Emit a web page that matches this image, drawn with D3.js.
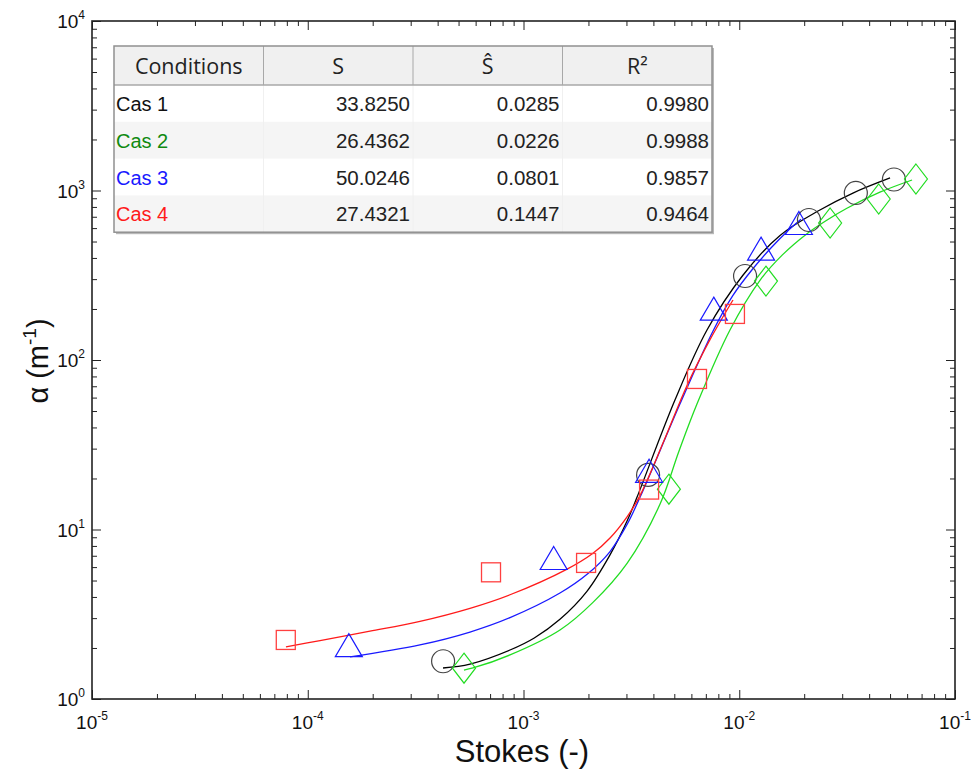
<!DOCTYPE html>
<html>
<head>
<meta charset="utf-8">
<script src="https://cdn.jsdelivr.net/npm/d3@7"></script>
<style>
  html, body { margin: 0; padding: 0; background: #fff; }
  svg { display: block; }
</style>
</head>
<body>
<svg id="chart" width="971" height="772"></svg>
<script>
// ---------------- DATA ----------------
const xDomain = [1e-5, 1e-1];
const yDomain = [1, 1e4];
const xMajorExp = [-5, -4, -3, -2, -1];
const yMajorExp = [0, 1, 2, 3, 4];

// Measured points
const cas1X = [4.24e-4, 3.78e-3, 0.01064, 0.02104, 0.0347, 0.0521];
const cas1Y = [1.67, 21.0, 313, 670, 967, 1161];
const cas2X = [5.30e-4, 4.72e-3, 0.0133, 0.02637, 0.0443, 0.0659];
const cas2Y = [1.52, 17.3, 292, 643, 891, 1169];
const cas3X = [1.55e-4, 1.38e-3, 3.82e-3, 7.62e-3, 0.01262, 0.0189];
const cas3Y = [2.08, 6.79, 22.2, 201, 454, 643];
const cas4X = [7.91e-5, 7.07e-4, 1.95e-3, 3.82e-3, 6.37e-3, 9.55e-3];
const cas4Y = [2.23, 5.59, 6.35, 17.2, 77.3, 187];

// Fitted curves (log10 of x, log10 of y)
const fit1LX = [-3.373, -3.248, -3.0625, -2.95, -2.831, -2.706, -2.599, -2.520, -2.474, -2.298, -2.1495, -1.983, -1.811, -1.626, -1.473, -1.301];
const fit1LY = [0.183, 0.206, 0.289, 0.360, 0.470, 0.635, 0.850, 1.050, 1.190, 1.764, 2.177, 2.500, 2.735, 2.885, 2.985, 3.074];
const fit2LX = [-3.276, -3.234, -3.0625, -2.831, -2.678, -2.520, -2.367, -2.280, -2.196, -2.043, -1.904, -1.800, -1.686, -1.600, -1.501, -1.348, -1.199];
const fit2LY = [0.171, 0.183, 0.260, 0.407, 0.570, 0.800, 1.150, 1.460, 1.740, 2.177, 2.470, 2.620, 2.745, 2.820, 2.895, 2.990, 3.062];
const fit3LX = [-3.804, -3.480, -3.248, -3.0625, -2.831, -2.701, -2.599, -2.520, -2.460, -2.275, -2.122, -2.030, -1.936, -1.850, -1.779, -1.714];
const fit3LY = [0.248, 0.319, 0.395, 0.480, 0.625, 0.740, 0.870, 1.030, 1.190, 1.740, 2.170, 2.380, 2.540, 2.665, 2.757, 2.830];
const fit4LX = [-4.101, -3.943, -3.7115, -3.480, -3.248, -3.0625, -2.800, -2.678, -2.599, -2.520, -2.460, -2.350, -2.242, -2.1356, -2.029];
const fit4LY = [0.307, 0.345, 0.400, 0.458, 0.535, 0.615, 0.765, 0.860, 0.950, 1.075, 1.200, 1.520, 1.850, 2.120, 2.354];

// Table
const tableHeader = ["Conditions", "S", "Ŝ", "R²"];
const tableCond = ["Cas 1", "Cas 2", "Cas 3", "Cas 4"];
const tableS = ["33.8250", "26.4362", "50.0246", "27.4321"];
const tableShat = ["0.0285", "0.0226", "0.0801", "0.1447"];
const tableR2 = ["0.9980", "0.9988", "0.9857", "0.9464"];

// ---------------- DRAW ----------------
const svg = d3.select("#chart");
const L = 92, R = 955, T = 21, B = 699;
const x = d3.scaleLog().domain(xDomain).range([L, R]);
const y = d3.scaleLog().domain(yDomain).range([B, T]);

const font = "'Liberation Sans', Arial, sans-serif";

const xMinor = [], yMinor = [];
for (let e = -5; e < -1; e++) for (let m = 2; m <= 9; m++) xMinor.push(m * Math.pow(10, e));
for (let e = 0; e < 4; e++) for (let m = 2; m <= 9; m++) yMinor.push(m * Math.pow(10, e));
const xMajor = xMajorExp.map(e => Math.pow(10, e));
const yMajor = yMajorExp.map(e => Math.pow(10, e));

function styleAxis(g) {
  g.select(".domain").remove();
  g.selectAll("line").attr("stroke", "#222").attr("stroke-width", 1);
}
svg.append("g").attr("transform", `translate(0,${B})`).call(d3.axisBottom(x).tickValues(xMinor).tickSize(-5).tickFormat("")).call(styleAxis);
svg.append("g").attr("transform", `translate(0,${B})`).call(d3.axisBottom(x).tickValues(xMajor).tickSize(-9).tickFormat("")).call(styleAxis);
svg.append("g").attr("transform", `translate(0,${T})`).call(d3.axisTop(x).tickValues(xMinor).tickSize(-5).tickFormat("")).call(styleAxis);
svg.append("g").attr("transform", `translate(0,${T})`).call(d3.axisTop(x).tickValues(xMajor).tickSize(-9).tickFormat("")).call(styleAxis);
svg.append("g").attr("transform", `translate(${L},0)`).call(d3.axisLeft(y).tickValues(yMinor).tickSize(-5).tickFormat("")).call(styleAxis);
svg.append("g").attr("transform", `translate(${L},0)`).call(d3.axisLeft(y).tickValues(yMajor).tickSize(-9).tickFormat("")).call(styleAxis);
svg.append("g").attr("transform", `translate(${R},0)`).call(d3.axisRight(y).tickValues(yMinor).tickSize(-5).tickFormat("")).call(styleAxis);
svg.append("g").attr("transform", `translate(${R},0)`).call(d3.axisRight(y).tickValues(yMajor).tickSize(-9).tickFormat("")).call(styleAxis);

svg.append("rect").attr("x", L).attr("y", T).attr("width", R - L).attr("height", B - T)
  .attr("fill", "none").attr("stroke", "#222").attr("stroke-width", 1.6);

// tick labels
xMajorExp.forEach(e => {
  const t = svg.append("text").attr("x", x(Math.pow(10, e))).attr("y", B + 30)
    .attr("text-anchor", "middle").attr("font-family", font).attr("font-size", 19).attr("fill", "#111");
  t.append("tspan").text("10");
  t.append("tspan").attr("dy", -9).attr("font-size", 12).text(String(e));
});
yMajorExp.forEach(e => {
  const t = svg.append("text").attr("x", 85).attr("y", y(Math.pow(10, e)) + 7)
    .attr("text-anchor", "end").attr("font-family", font).attr("font-size", 19).attr("fill", "#111");
  t.append("tspan").text("10");
  t.append("tspan").attr("dy", -9).attr("font-size", 12).text(String(e));
});

// axis titles
svg.append("text").attr("x", 522).attr("y", 762).attr("text-anchor", "middle")
  .attr("font-family", font).attr("font-size", 31).attr("fill", "#111").text("Stokes (-)");
const yt = svg.append("text").attr("transform", "translate(48,361) rotate(-90)").attr("text-anchor", "middle")
  .attr("font-family", font).attr("font-size", 29).attr("fill", "#111");
yt.append("tspan").text("α (m");
yt.append("tspan").attr("dy", -12).attr("font-size", 19).text("-1");
yt.append("tspan").attr("dy", 12).text(")");

// curves
const line = d3.line().x(d => x(Math.pow(10, d[0]))).y(d => y(Math.pow(10, d[1]))).curve(d3.curveCatmullRom.alpha(0.5));
const fits = [
  { xs: fit1LX, ys: fit1LY, color: "#000000" },
  { xs: fit2LX, ys: fit2LY, color: "#22dd22" },
  { xs: fit3LX, ys: fit3LY, color: "#1a1aff" },
  { xs: fit4LX, ys: fit4LY, color: "#ff1a1a" }
];
fits.forEach(f => {
  svg.append("path").datum(f.xs.map((v, i) => [v, f.ys[i]]))
    .attr("d", line).attr("fill", "none").attr("stroke", f.color).attr("stroke-width", 1.3);
});

// markers
const zip = (a, b) => a.map((v, i) => [v, b[i]]);
svg.append("g").selectAll("circle").data(zip(cas1X, cas1Y)).join("circle")
  .attr("cx", d => x(d[0])).attr("cy", d => y(d[1])).attr("r", 11.5)
  .attr("fill", "none").attr("stroke", "#444").attr("stroke-width", 1.2);
svg.append("g").selectAll("path").data(zip(cas2X, cas2Y)).join("path")
  .attr("transform", d => `translate(${x(d[0])},${y(d[1])})`)
  .attr("d", "M0,-15L11.5,0L0,15L-11.5,0Z")
  .attr("fill", "none").attr("stroke", "#22dd22").attr("stroke-width", 1.2);
svg.append("g").selectAll("path").data(zip(cas3X, cas3Y)).join("path")
  .attr("transform", d => `translate(${x(d[0])},${y(d[1])})`)
  .attr("d", "M0,-11.5L13.5,11.5L-13.5,11.5Z")
  .attr("fill", "none").attr("stroke", "#1a1aff").attr("stroke-width", 1.2);
svg.append("g").selectAll("rect").data(zip(cas4X, cas4Y)).join("rect")
  .attr("x", d => x(d[0]) - 9.5).attr("y", d => y(d[1]) - 9.5).attr("width", 19).attr("height", 19)
  .attr("fill", "none").attr("stroke", "#ff4040").attr("stroke-width", 1.3);

// table
const tX = 114, tY = 46, tW = 598, hH = 39, rH = 36.8;
const colW = tW / 4;
const tg = svg.append("g");
tg.append("rect").attr("x", tX + 2).attr("y", tY + 2).attr("width", tW).attr("height", hH + 4 * rH).attr("fill", "#b8b8b8");
tg.append("rect").attr("x", tX).attr("y", tY).attr("width", tW).attr("height", hH + 4 * rH).attr("fill", "#fff");
tg.append("rect").attr("x", tX).attr("y", tY).attr("width", tW).attr("height", hH).attr("fill", "#f0f0f0");
[1, 3].forEach(i => tg.append("rect").attr("x", tX).attr("y", tY + hH + i * rH).attr("width", tW).attr("height", rH).attr("fill", "#f5f5f5"));
for (let c = 1; c < 4; c++) {
  tg.append("line").attr("x1", tX + c * colW).attr("x2", tX + c * colW).attr("y1", tY).attr("y2", tY + hH)
    .attr("stroke", "#a8a8a8").attr("stroke-width", 1);
  tg.append("line").attr("x1", tX + c * colW).attr("x2", tX + c * colW).attr("y1", tY + hH).attr("y2", tY + hH + 4 * rH)
    .attr("stroke", "#f0f0f0").attr("stroke-width", 1);
}
tg.append("line").attr("x1", tX).attr("x2", tX + tW).attr("y1", tY + hH).attr("y2", tY + hH)
  .attr("stroke", "#a8a8a8").attr("stroke-width", 1.5);
tg.append("rect").attr("x", tX).attr("y", tY).attr("width", tW).attr("height", hH + 4 * rH)
  .attr("fill", "none").attr("stroke", "#909090").attr("stroke-width", 1.5);

tableHeader.forEach((h, c) => {
  tg.append("text").attr("x", tX + c * colW + colW / 2).attr("y", tY + 28).attr("text-anchor", "middle")
    .attr("font-family", "'Open Sans', 'DejaVu Sans', sans-serif").attr("font-size", 21.5).attr("fill", "#222").text(h);
});
const condColors = ["#111111", "#108a10", "#1a1aff", "#ff1a1a"];
tableCond.forEach((cnd, r) => {
  const yy = tY + hH + r * rH + 26;
  tg.append("text").attr("x", tX + 2).attr("y", yy).attr("font-family", font).attr("font-size", 20)
    .attr("fill", condColors[r]).text(cnd);
  [tableS[r], tableShat[r], tableR2[r]].forEach((v, c) => {
    tg.append("text").attr("x", tX + (c + 2) * colW - 3).attr("y", yy).attr("text-anchor", "end")
      .attr("font-family", font).attr("font-size", 20.5).attr("fill", "#222").text(v);
  });
});
</script>
</body>
</html>
